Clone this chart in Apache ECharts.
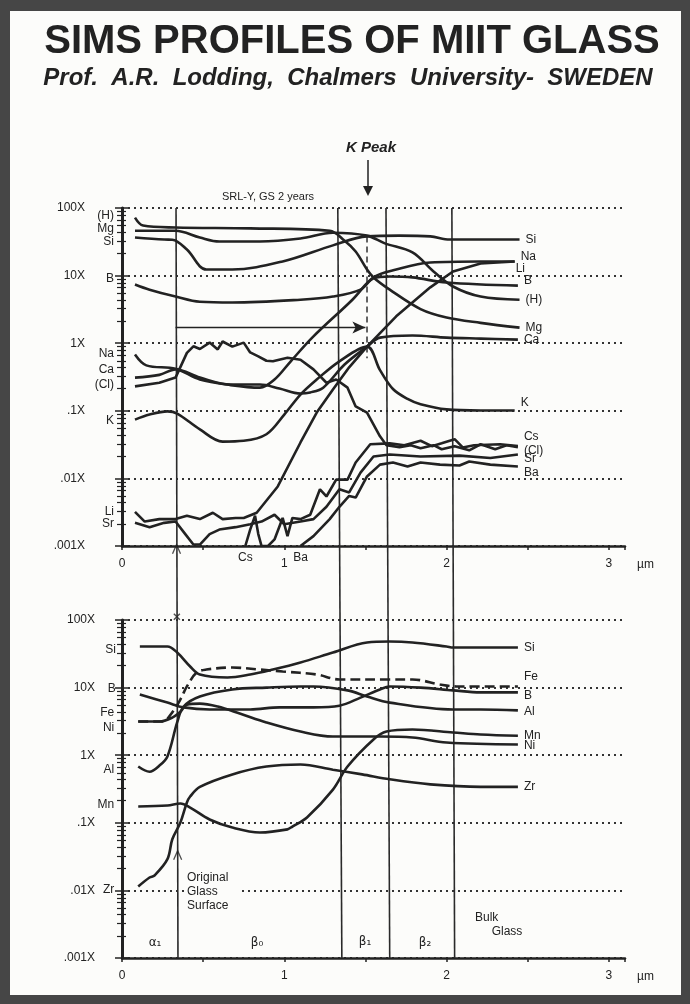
<!DOCTYPE html>
<html>
<head>
<meta charset="utf-8">
<script src="https://cdn.jsdelivr.net/npm/echarts@6/dist/echarts.min.js"></script>
<style>
html, body { margin: 0; padding: 0; background: #464646; }
#chart { width: 690px; height: 1004px; }
</style>
</head>
<body>
<div id="chart"></div>
<script>
// tick labels
var yTickLabels = { '100': '100X', '10': '10X', '1': '1X', '0.1': '.1X', '0.01': '.01X', '0.001': '.001X' };
var xTickLabels = { '0': '0', '1': '1', '2': '2', '3': '3' };

// upper panel, depth (um) vs relative signal
var upH  = [[0.08,72],[0.13,55],[0.33,51.5],[0.79,50],[1.28,46],[1.37,33],[1.44,22.7],[1.51,12.3],[1.55,9.4],[1.65,6.2],[1.84,3.2],[2.00,2.4],[2.21,2.0],[2.45,1.7]];
var upMg = [[0.08,46],[0.33,46],[0.48,36.6],[0.60,32],[0.85,32],[1.10,35.4],[1.30,43],[1.51,39],[1.62,30],[1.79,22],[1.92,11.5],[2.04,6.9],[2.21,4.9],[2.45,4.4]];
var upSi = [[0.08,36.6],[0.26,34.2],[0.31,34],[0.40,24.3],[0.52,12.3],[0.68,12.3],[0.99,16.2],[1.30,28],[1.51,38],[1.71,39],[1.90,38],[2.02,34.2],[2.45,34.2]];
var upB  = [[0.08,7.4],[0.17,6.2],[0.33,4.9],[0.48,4.1],[0.68,4.0],[1.10,4.4],[1.30,4.9],[1.47,6.2],[1.55,9.1],[1.65,9.7],[1.79,9.4],[2.00,7.9],[2.44,7.1]];
var upNa = [[0.08,0.68],[0.15,0.47],[0.33,0.42],[0.48,0.29],[0.67,0.24],[0.85,0.22],[0.94,0.29],[1.04,0.54],[1.18,1.26],[1.42,4.4],[1.55,9.4],[1.69,12.3],[1.90,15.6],[2.21,16.2],[2.42,16.2]];
var upCa = [[0.08,0.31],[0.23,0.34],[0.33,0.41],[0.48,0.31],[0.67,0.245],[0.85,0.245],[0.97,0.214],[1.10,0.18],[1.16,0.187],[1.24,0.22],[1.37,0.48],[1.51,0.89],[1.59,1.21],[1.79,1.3],[2.00,1.21],[2.21,1.17],[2.44,1.13]];
var upCl = [[0.08,0.23],[0.23,0.26],[0.33,0.31],[0.40,0.72],[0.44,0.9],[0.48,0.82],[0.54,1.02],[0.59,0.81],[0.62,1.06],[0.68,0.89],[0.75,1.02],[0.79,0.73],[0.84,0.64],[0.89,0.55],[0.93,0.54],[1.02,0.61],[1.10,0.57],[1.18,0.41],[1.26,0.26],[1.32,0.29],[1.39,0.22],[1.44,0.116],[1.51,0.094],[1.59,0.042],[1.63,0.031],[1.71,0.029],[1.78,0.031],[1.84,0.028],[1.92,0.031],[1.97,0.027],[2.05,0.030],[2.14,0.026],[2.21,0.032],[2.30,0.027],[2.37,0.031],[2.44,0.029]];
var upK  = [[0.08,0.074],[0.17,0.088],[0.28,0.098],[0.34,0.091],[0.48,0.053],[0.62,0.035],[0.75,0.036],[0.89,0.045],[1.00,0.088],[1.10,0.174],[1.20,0.29],[1.34,0.54],[1.51,0.89],[1.59,0.40],[1.67,0.21],[1.76,0.15],[1.84,0.125],[2.00,0.105],[2.21,0.101],[2.42,0.101]];
var upLi = [[0.08,0.0032],[0.14,0.0023],[0.23,0.0025],[0.33,0.0025],[0.40,0.0028],[0.48,0.0025],[0.56,0.0031],[0.62,0.0025],[0.70,0.0026],[0.75,0.0026],[0.83,0.0031],[0.96,0.0076],[1.10,0.034],[1.20,0.094],[1.30,0.207],[1.40,0.44],[1.51,0.89],[1.69,2.5],[1.90,6.7],[2.04,11.5],[2.21,15.1],[2.42,16.2]];
var upSr = [[0.08,0.0022],[0.17,0.0019],[0.26,0.0022],[0.33,0.0023],[0.39,0.0015],[0.44,0.00105],[0.48,0.00105],[0.54,0.0015],[0.60,0.00175],[0.70,0.0019],[0.79,0.0021],[0.86,0.0023],[0.94,0.0029],[1.00,0.0021],[1.10,0.0023],[1.18,0.0025],[1.26,0.0038],[1.34,0.0069],[1.40,0.0062],[1.47,0.0122],[1.55,0.0211],[1.65,0.0226],[1.84,0.0211],[2.08,0.0217],[2.27,0.020],[2.44,0.0226]];
var upCs = [[0.76,0.001],[0.79,0.00175],[0.82,0.0028],[0.84,0.0015],[0.86,0.001],[0.90,0.001],[0.94,0.00125],[0.99,0.0026],[1.02,0.0014],[1.05,0.0026],[1.10,0.0025],[1.16,0.0029],[1.22,0.0069],[1.26,0.0054],[1.32,0.0096],[1.39,0.0096],[1.44,0.0172],[1.53,0.032],[1.65,0.033],[1.74,0.031],[1.84,0.036],[1.91,0.030],[1.97,0.033],[2.05,0.038],[2.10,0.0287],[2.17,0.031],[2.33,0.032],[2.44,0.030]];
var upBa = [[1.10,0.001],[1.18,0.0014],[1.28,0.0025],[1.34,0.0038],[1.40,0.0055],[1.44,0.0052],[1.51,0.0107],[1.59,0.016],[1.67,0.0172],[1.76,0.015],[1.84,0.0172],[1.96,0.016],[2.08,0.0155],[2.14,0.0178],[2.27,0.016],[2.44,0.015]];

// lower panel
var loSi = [[0.11,40.6],[0.28,40.6],[0.34,33],[0.42,20.5],[0.48,15.6],[0.65,14.1],[0.79,15.6],[0.93,18.5],[1.10,23.5],[1.30,33],[1.51,46.5],[1.65,48],[1.79,46.5],[2.00,40.6],[2.04,39.2],[2.44,39.2]];
var loFe = [[0.10,3.15],[0.25,3.15],[0.31,4.3],[0.36,6.7],[0.40,10.4],[0.46,16.7],[0.52,18.5],[0.68,19.8],[0.85,18.5],[0.99,17.3],[1.20,15.6],[1.34,13.2],[1.65,13.2],[1.79,13.2],[1.96,11.1],[2.06,10.4],[2.44,10.4]];
var loB  = [[0.11,7.9],[0.28,6.0],[0.38,5.1],[0.54,4.75],[0.79,4.75],[0.97,5.1],[1.18,5.1],[1.34,5.4],[1.47,7.1],[1.59,9.4],[1.65,10.4],[1.84,10],[2.04,9.1],[2.21,8.5],[2.44,8.5]];
var loAl = [[0.10,0.68],[0.17,0.57],[0.23,0.70],[0.28,0.96],[0.34,3.05],[0.38,5.25],[0.48,7.4],[0.68,9.4],[0.89,10],[1.10,10.4],[1.18,10.4],[1.39,9.1],[1.51,7.4],[1.65,6.0],[2.04,4.75],[2.21,4.75],[2.44,4.6]];
var loNi = [[0.10,3.15],[0.23,3.15],[0.31,3.6],[0.36,4.4],[0.40,5.6],[0.48,5.8],[0.59,5.25],[0.73,4.1],[0.89,3.05],[1.10,2.24],[1.30,1.89],[1.59,1.89],[1.79,1.83],[2.00,1.54],[2.44,1.44]];
var loMn = [[0.10,0.174],[0.28,0.18],[0.36,0.193],[0.42,0.168],[0.54,0.112],[0.68,0.085],[0.85,0.072],[1.02,0.080],[1.05,0.088],[1.14,0.12],[1.30,0.31],[1.39,0.68],[1.55,1.71],[1.63,2.24],[1.79,2.4],[2.04,2.17],[2.21,2.02],[2.44,1.94]];
var loZr = [[0.10,0.0114],[0.17,0.0155],[0.20,0.0166],[0.28,0.029],[0.31,0.057],[0.36,0.101],[0.40,0.20],[0.42,0.245],[0.48,0.34],[0.68,0.52],[0.89,0.68],[1.10,0.73],[1.30,0.61],[1.48,0.52],[1.65,0.44],[1.90,0.37],[2.21,0.34],[2.44,0.34]];

// zone boundaries: depth at top of upper panel, depth at bottom of lower panel
var zoneTop    = [0.333, 1.33, 1.627, 2.033];
var zoneBottom = [0.345, 1.355, 1.65, 2.05];
var kPeakDepth = 1.51;
var kPeakSpan  = [38, 0.6];
var shiftArrow = [[0.33, 1.7], [1.50, 1.7]];

var ink = '#222';
var font = '"Liberation Sans", Arial, Helvetica, sans-serif';

// left text, right text, label nudges, noisy?
var upperSpecs = [
  { d: upH,  s: '(H)', e: 'Mg',  sy: -2, ey: 0 },
  { d: upMg, s: 'Mg',  e: '(H)', sy: -2, ey: 0 },
  { d: upSi, s: 'Si',  e: 'Si',  sy: 4,  ey: 0 },
  { d: upB,  s: 'B',   e: 'B',   sy: -6, ey: -5 },
  { d: upNa, s: 'Na',  e: 'Na',  sy: -1, ey: -5 },
  { d: upCa, s: 'Ca',  e: 'Ca',  sy: -8, ey: 0 },
  { d: upCl, s: '(Cl)', e: '(Cl)', sy: -2, ey: 4, noisy: true },
  { d: upK,  s: 'K',   e: 'K',   sy: 1,  ey: -8 },
  { d: upLi, s: 'Li',  e: 'Li',  sy: 0,  ey: 7, ex: -5, noisy: true },
  { d: upSr, s: 'Sr',  e: 'Sr',  sy: 1,  ey: 4, noisy: true },
  { d: upCs, s: 'Cs',  e: 'Cs',  sy: 0,  ey: -9, bottom: true, noisy: true },
  { d: upBa, s: 'Ba',  e: 'Ba',  sy: 0,  ey: 6, bottom: true, noisy: true }
];
var lowerSpecs = [
  { d: loSi, s: 'Si', e: 'Si', sy: 3,  ey: 0 },
  { d: loFe, s: 'Fe', e: 'Fe', sy: -9, ey: -10, dashed: true },
  { d: loB,  s: 'B',  e: 'B',  sy: -6, ey: 3 },
  { d: loAl, s: 'Al', e: 'Al', sy: 3,  ey: 1 },
  { d: loNi, s: 'Ni', e: 'Ni', sy: 6,  ey: 1 },
  { d: loMn, s: 'Mn', e: 'Mn', sy: -2, ey: 0 },
  { d: loZr, s: 'Zr', e: 'Zr', sy: 3,  ey: 0 }
];

var textStyle = { color: ink, fontSize: 12, fontFamily: font };

function makeSeries(spec, g, dist) {
  var data = spec.d.map(function (p, i) {
    if (i !== 0) return p;
    return {
      value: p,
      label: Object.assign({
        show: true,
        formatter: spec.s,
        position: spec.bottom ? 'bottom' : 'left',
        distance: spec.bottom ? 6 : dist,
        offset: [0, spec.sy]
      }, textStyle)
    };
  });
  return {
    type: 'line', xAxisIndex: g, yAxisIndex: g, z: 3,
    data: data,
    smooth: spec.noisy ? false : 0.35,
    symbol: 'circle', symbolSize: 0, showSymbol: true, showAllSymbol: true,
    lineStyle: { color: ink, width: 2.6, type: spec.dashed ? [10, 5] : 'solid' },
    itemStyle: { color: ink },
    endLabel: Object.assign({ show: true, formatter: spec.e, distance: 6, offset: [spec.ex || 0, spec.ey] }, textStyle),
    emphasis: { disabled: true },
    silent: true
  };
}

function yAxisFor(g, margin) {
  return {
    type: 'log', logBase: 10, gridIndex: g, min: 0.001, max: 100,
    axisLine: { show: true, onZero: false, lineStyle: { color: ink, width: 3 } },
    axisTick: { show: true, length: 7, lineStyle: { color: ink, width: 1.5 } },
    minorTick: { show: true, splitNumber: 8, length: 5, lineStyle: { color: ink, width: 1.2 } },
    splitLine: { show: true, lineStyle: { color: '#333', type: [2, 4], width: 1.8 } },
    axisLabel: Object.assign({ margin: margin, formatter: function (v) { return yTickLabels[String(v)] || ''; } }, textStyle)
  };
}
// same scale, ticks drawn on the inner side
function yTicksInside(g) {
  return {
    type: 'log', logBase: 10, gridIndex: g, min: 0.001, max: 100, position: 'left',
    axisLine: { show: false },
    axisTick: { show: true, inside: true, length: 6, lineStyle: { color: ink, width: 1.5 } },
    minorTick: { show: true, splitNumber: 8, length: 4, lineStyle: { color: ink, width: 1.2 } },
    splitLine: { show: false },
    axisLabel: { show: false }
  };
}
function xAxisFor(g) {
  return {
    type: 'value', gridIndex: g, min: 0, max: 3.1, interval: 0.5,
    name: 'µm', nameLocation: 'end', nameGap: 12,
    nameTextStyle: Object.assign({ verticalAlign: 'top', padding: [13, 0, 0, 0] }, textStyle),
    axisLine: { onZero: false, lineStyle: { color: ink, width: 2.5 } },
    axisTick: { length: 4, lineStyle: { color: ink, width: 1.5 } },
    splitLine: { show: false },
    axisLabel: Object.assign({ margin: 12, formatter: function (v) { return xTickLabels[String(v)] || ''; } }, textStyle)
  };
}

var series = [];
upperSpecs.forEach(function (s) { series.push(makeSeries(s, 0, 21)); });
lowerSpecs.forEach(function (s) { series.push(makeSeries(s, 1, 24)); });

// zone boundary lines through both panels
zoneTop.forEach(function (x, i) {
  series.push({
    type: 'line', xAxisIndex: 2, yAxisIndex: 2, z: 1, silent: true,
    data: [[x, 1], [zoneBottom[i], 0]], symbol: 'none',
    lineStyle: { color: '#2a2a2a', width: 1.6 }
  });
});
// markers on the original surface line
series.push({
  type: 'scatter', xAxisIndex: 2, yAxisIndex: 2, z: 4, silent: true,
  data: [
    { value: [0.336, 0.545], symbol: 'path://M0,10L5,0L10,10', symbolSize: [8, 9] },
    { value: [0.343, 0.137], symbol: 'path://M0,10L5,0L10,10', symbolSize: [8, 9] },
    { value: [0.338, 0.455], symbol: 'path://M0,0L10,10M10,0L0,10', symbolSize: 6 }
  ],
  itemStyle: { color: 'none', borderColor: ink, borderWidth: 1.4 }
});
// K peak dashed line and shift arrow
series.push({
  type: 'line', xAxisIndex: 0, yAxisIndex: 0, z: 2, silent: true,
  data: [[kPeakDepth, kPeakSpan[0]], [kPeakDepth, kPeakSpan[1]]], symbol: 'none',
  lineStyle: { color: ink, width: 1.4, type: [6, 4] },
  markLine: {
    silent: true, symbol: ['none', 'arrow'], symbolSize: [9, 13],
    lineStyle: { color: ink, width: 1.3, type: 'solid' }, label: { show: false },
    data: [[{ coord: shiftArrow[0] }, { coord: shiftArrow[1] }]]
  }
});

var paper = '#fcfcfa';
var option = {
  animation: false,
  backgroundColor: '#464646',
  grid: [
    { left: 122, width: 503, top: 208, height: 338 },
    { left: 122, width: 503, top: 620, height: 338 },
    { left: 122, width: 503, top: 208, height: 750 }
  ],
  xAxis: [xAxisFor(0), xAxisFor(1),
    { type: 'value', gridIndex: 2, min: 0, max: 3.1, show: false }],
  yAxis: [yAxisFor(0, 37), yAxisFor(1, 27),
    { type: 'value', gridIndex: 2, min: 0, max: 1, show: false },
    yTicksInside(0), yTicksInside(1)],
  graphic: [
    { type: 'rect', z: -100, silent: true, shape: { x: 10, y: 11, width: 671, height: 984 }, style: { fill: paper } },
    { type: 'text', x: 352, y: 42, silent: true, style: { text: 'SIMS PROFILES OF MIIT GLASS', fill: ink, font: 'bold 40px ' + font, textAlign: 'center', textVerticalAlign: 'middle' } },
    { type: 'text', x: 348, y: 78, silent: true, style: { text: 'Prof.  A.R.  Lodding,  Chalmers  University-  SWEDEN', fill: ink, font: 'italic bold 24px ' + font, textAlign: 'center', textVerticalAlign: 'middle' } },
    { type: 'text', x: 371, y: 148, silent: true, style: { text: 'K Peak', fill: ink, font: 'italic bold 15px ' + font, textAlign: 'center', textVerticalAlign: 'middle' } },
    { type: 'line', silent: true, shape: { x1: 368, y1: 160, x2: 368, y2: 190 }, style: { stroke: ink, lineWidth: 1.5 } },
    { type: 'polygon', silent: true, shape: { points: [[363, 186], [373, 186], [368, 196]] }, style: { fill: ink } },
    { type: 'text', x: 268, y: 197, silent: true, style: { text: 'SRL-Y, GS 2 years', fill: ink, font: '11px ' + font, textAlign: 'center', textVerticalAlign: 'middle' } },
    { type: 'rect', z: 50, silent: true, shape: { x: 184, y: 884, width: 56, height: 16 }, style: { fill: paper } },
    { type: 'text', x: 187, y: 871, z: 60, silent: true, style: { text: 'Original\nGlass\nSurface', fill: ink, font: '12px ' + font, lineHeight: 14, textVerticalAlign: 'top' } },
    { type: 'text', x: 155, y: 943, silent: true, style: { text: 'α₁', fill: ink, font: '12px "DejaVu Sans"', textAlign: 'center', textVerticalAlign: 'middle' } },
    { type: 'text', x: 257, y: 943, silent: true, style: { text: 'β₀', fill: ink, font: '12px "DejaVu Sans"', textAlign: 'center', textVerticalAlign: 'middle' } },
    { type: 'text', x: 365, y: 942, silent: true, style: { text: 'β₁', fill: ink, font: '12px "DejaVu Sans"', textAlign: 'center', textVerticalAlign: 'middle' } },
    { type: 'text', x: 425, y: 943, silent: true, style: { text: 'β₂', fill: ink, font: '12px "DejaVu Sans"', textAlign: 'center', textVerticalAlign: 'middle' } },
    { type: 'text', x: 475, y: 911, silent: true, style: { text: 'Bulk\n     Glass', fill: ink, font: '12px ' + font, lineHeight: 14 } }
  ],
  series: series
};

var chart = echarts.init(document.getElementById('chart'));
chart.setOption(option);
</script>
</body>
</html>
